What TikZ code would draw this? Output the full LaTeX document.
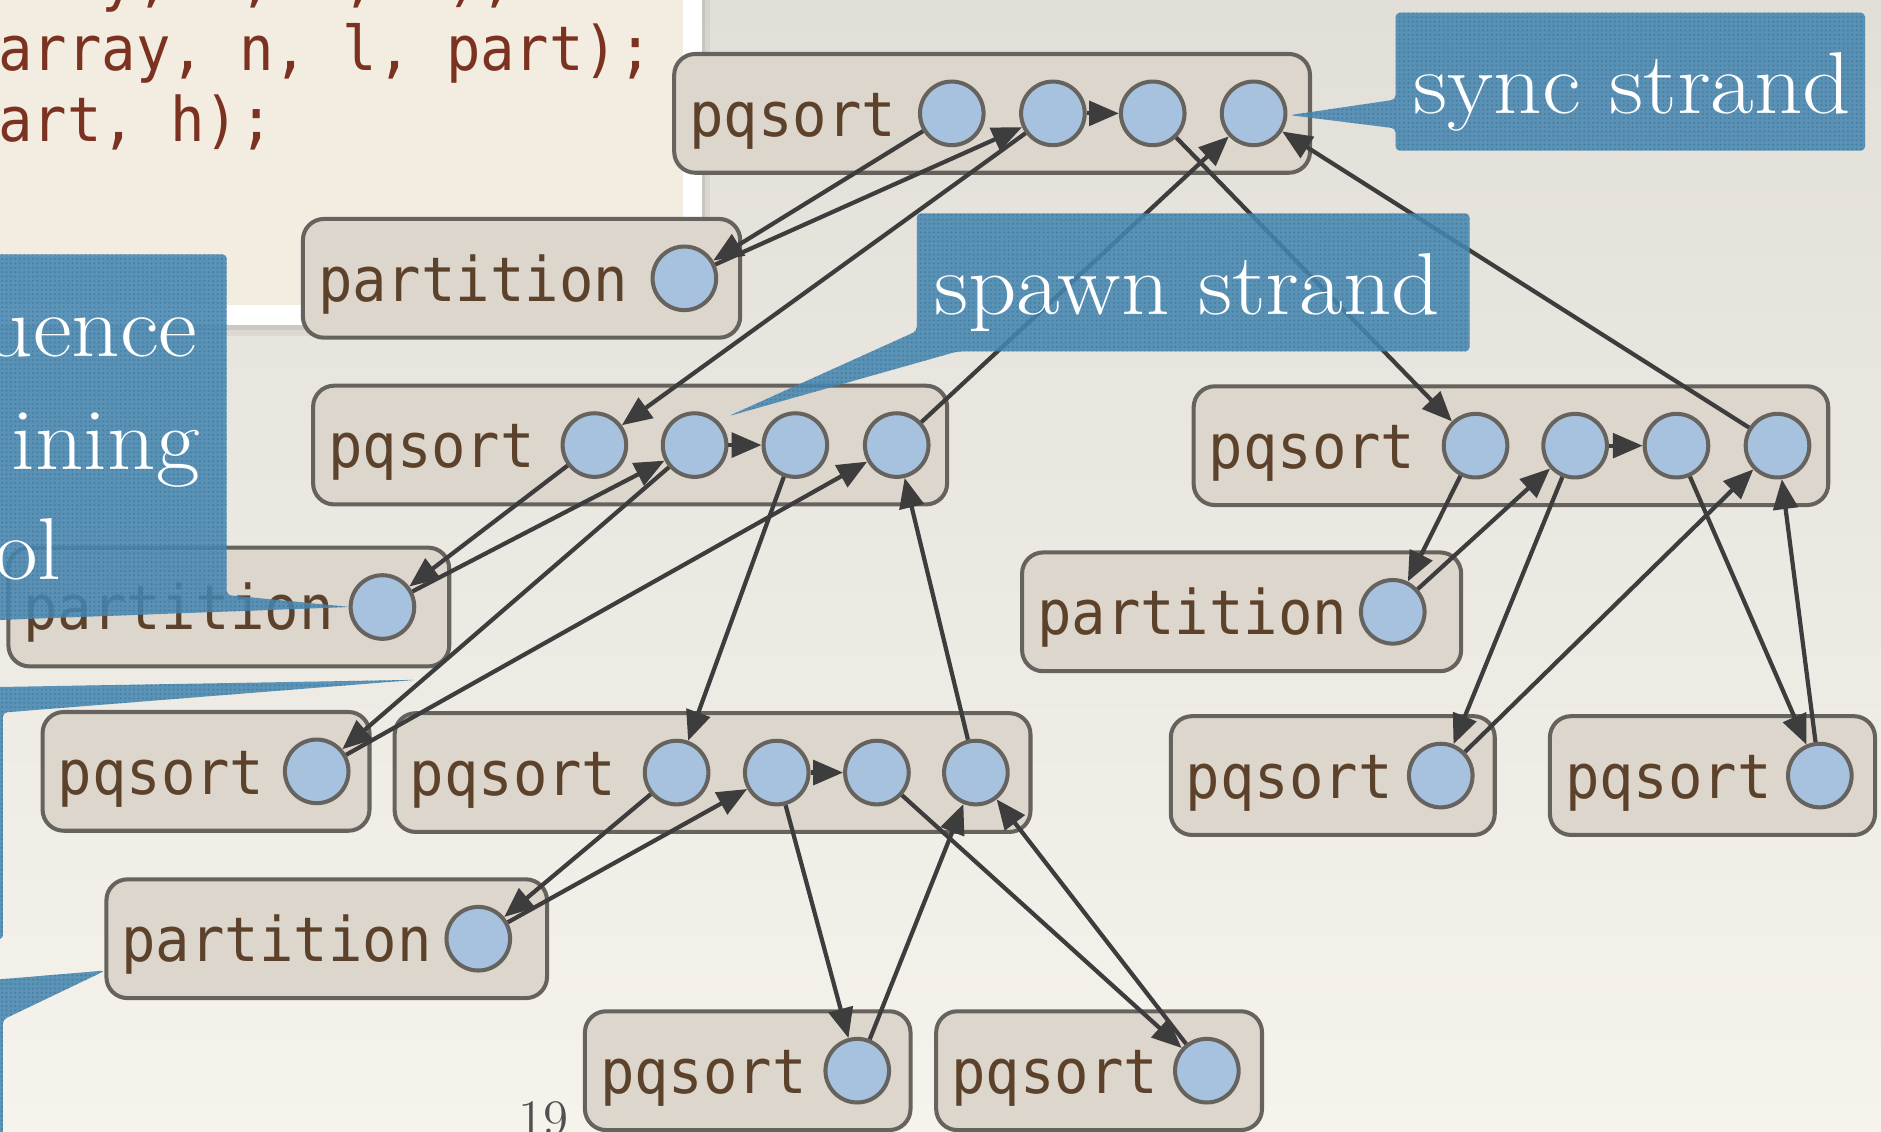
\documentclass[tikz,border=0pt]{standalone}
\usepackage{fontspec}
\newfontfamily\codefont[FakeStretch=0.93]{DejaVu Sans Mono}
\newfontfamily\notefont[FakeStretch=1.08]{Latin Modern Roman}
\usetikzlibrary{arrows.meta,patterns}

\definecolor{bgtop}{HTML}{E2DFD8}
\definecolor{bgbot}{HTML}{F6F3EC}
\definecolor{paper}{HTML}{F3ECE1}
\definecolor{codecol}{HTML}{7C3220}
\definecolor{boxfill}{HTML}{DDD6CC}
\definecolor{boxline}{HTML}{66625D}
\definecolor{dotfill}{HTML}{A6C2DF}
\definecolor{edgecol}{HTML}{3D3D3D}
\definecolor{labelcol}{HTML}{5C412B}
\definecolor{calloutcol}{HTML}{4787B1}
\definecolor{calloutdots}{HTML}{2D6690}
\definecolor{pagenum}{HTML}{505050}

% fine dot texture for the callout boxes
\pgfdeclarepatternformonly{finedots}{\pgfqpoint{-0.1pt}{-0.1pt}}{\pgfqpoint{1.35pt}{1.35pt}}{\pgfqpoint{1.25pt}{1.25pt}}%
  {\pgfpathcircle{\pgfqpoint{0.62pt}{0.62pt}}{0.32pt}\pgfusepath{fill}}

\tikzset{
  strandbox/.style={rectangle, draw=boxline, fill=boxfill, line width=1.15pt,
    rounded corners=6pt, inner sep=0pt, outer sep=0pt},
  strand/.style={circle, draw=boxline, fill=dotfill, line width=1.15pt,
    minimum size=0.636cm, inner sep=0pt},
  fname/.style={anchor=base west, inner sep=0pt, text=labelcol,
    font=\codefont\fontsize{17.5}{20}\selectfont},
  codeline/.style={anchor=base west, inner sep=0pt, text=codecol,
    font=\codefont\fontsize{17.5}{20}\selectfont},
  arr/.style={draw=edgecol, line width=1.2pt, -{Triangle[length=8.5pt,width=7pt]}},
  callout/.style={fill=calloutcol, fill opacity=0.88, rounded corners=1.2pt,
    postaction={pattern=finedots, pattern color=calloutdots, fill opacity=0.45}},
  callouttext/.style={text=white, inner sep=0pt, font=\notefont\fontsize{25}{30}\selectfont},
}

% a function frame: name, left, right, centre y, label
\newcommand\fnbox[5]{%
  \node[strandbox, minimum width={(#3-#2)*0.012cm}, minimum height={99*0.012cm}]
    (#1) at ({(#2+#3)/2},#4) {};
  \node[fname] (#1-name) at ({#2+12},{#4+19}) {#5};
}

\begin{document}
\begin{tikzpicture}[x=0.012cm, y=-0.012cm]
\useasboundingbox (0,0) rectangle (1568,943);
\clip (0,0) rectangle (1568,943);

% slide background
\shade[top color=bgtop, bottom color=bgbot] (0,0) rectangle (1568,943);

% code panel with white frame and soft shadow
\fill[black, opacity=0.05] (-20,-20) rectangle (592,280);
\fill[black, opacity=0.07] (-20,-20) rectangle (588,275);
\fill[white] (-20,-20) rectangle (585,271);
\fill[paper] (-20,-20) rectangle (569,254);
\node[codeline] (code1) at (-59.4,0) {(array, n, l, h);};
\node[codeline] (code2) at (-30.7,59) {(array, n, l, part);};
\node[codeline] (code3) at (-30.7,118) {part, h);};

% function frames
\fnbox{boxA}{562}{1092}{94.5}{pqsort}
\fnbox{boxB}{252.5}{617}{232}{partition}
\fnbox{boxC}{261}{789.5}{371}{pqsort}
\fnbox{boxD}{7}{374.5}{506}{partition}
\fnbox{boxE}{35.5}{308}{643}{pqsort}
\fnbox{boxF}{329}{859}{644}{pqsort}
\fnbox{boxG}{88.7}{456}{782.5}{partition}
\fnbox{boxH}{487.6}{759}{892.5}{pqsort}
\fnbox{boxI}{780.4}{1052}{892.5}{pqsort}
\fnbox{boxJ}{995}{1524}{371.5}{pqsort}
\fnbox{boxK}{852}{1218}{510}{partition}
\fnbox{boxL}{976}{1246}{646.5}{pqsort}
\fnbox{boxM}{1292}{1563}{646.5}{pqsort}

% strands
\node[strand] (A1) at (793.4,94.5) {};
\node[strand] (A2) at (877.7,94.5) {};
\node[strand] (A3) at (960.9,94.5) {};
\node[strand] (A4) at (1045,94.5) {};
\node[strand] (B1) at (570.5,232) {};
\node[strand] (C1) at (495.5,371) {};
\node[strand] (C2) at (579,371) {};
\node[strand] (C3) at (663,371) {};
\node[strand] (C4) at (747.5,371) {};
\node[strand] (D1) at (318.8,506) {};
\node[strand] (E1) at (264,643) {};
\node[strand] (F1) at (564,644) {};
\node[strand] (F2) at (647.5,644) {};
\node[strand] (F3) at (731,644) {};
\node[strand] (F4) at (813.5,644) {};
\node[strand] (G1) at (398.7,782.5) {};
\node[strand] (H1) at (714.6,892.5) {};
\node[strand] (I1) at (1006,892.5) {};
\node[strand] (J1) at (1230,371.5) {};
\node[strand] (J2) at (1313,371.5) {};
\node[strand] (J3) at (1397.5,371.5) {};
\node[strand] (J4) at (1481.7,371.5) {};
\node[strand] (K1) at (1161,510) {};
\node[strand] (L1) at (1201,646.5) {};
\node[strand] (M1) at (1517,646.5) {};

% dependencies
\draw[arr] (A1) -- (B1);
\draw[arr] (B1) -- (A2);
\draw[arr] (A2) -- (A3);
\draw[arr] (A2) -- (C1);
\draw[arr] (A3) -- (J1);
\draw[arr] (C4) -- (A4);
\draw[arr] (J4) -- (A4);

\draw[arr] (C1) -- (D1);
\draw[arr] (D1) -- (C2);
\draw[arr] (C2) -- (C3);
\draw[arr] (C2) -- (E1);
\draw[arr] (E1) -- (C4);
\draw[arr] (C3) -- (F1);
\draw[arr] (F4) -- (C4);

\draw[arr] (F1) -- (G1);
\draw[arr] (G1) -- (F2);
\draw[arr] (F2) -- (F3);
\draw[arr] (F2) -- (H1);
\draw[arr] (H1) -- (F4);
\draw[arr] (F3) -- (I1);
\draw[arr] (I1) -- (F4);

\draw[arr] (J1) -- (K1);
\draw[arr] (K1) -- (J2);
\draw[arr] (J2) -- (J3);
\draw[arr] (J2) -- (L1);
\draw[arr] (L1) -- (J4);
\draw[arr] (J3) -- (M1);
\draw[arr] (M1) -- (J4);

% callouts
\path[callout] (1163.3,10.6) -- (1554.7,10.6) -- (1554.7,125.6) -- (1163.3,125.6)
  -- (1163.3,107) -- (1075,96) -- (1163.3,83) -- cycle;
\node[callouttext, anchor=base west] (synclbl) at (1178,94.4) {sync strand};

\path[callout] (764.2,177.8) -- (1225,177.8) -- (1225,293) -- (798,293)
  -- (607,347) -- (764.2,276) -- cycle;
\node[callouttext, anchor=base west] (spawnlbl) at (778,262.5) {spawn strand};

\path[callout] (-20,212) -- (189,212) -- (189,496) -- (292,506) -- (-20,517.5) -- cycle;
\node[callouttext, anchor=base east] (seq1) at (165,297) {uence};
\node[callouttext, anchor=base east] (seq2) at (167,391.5) {ining};
\node[callouttext, anchor=base east] (seq3) at (52,483) {ol};

\path[callout] (-20,573) -- (347,566.7) -- (2.4,594) -- (2.4,783) -- (-20,783) -- cycle;
\path[callout] (-20,818) -- (88,809) -- (2.4,850) -- (2.4,960) -- (-20,960) -- cycle;

% slide number
\node[anchor=base west, inner sep=0pt, text=pagenum, font=\fontsize{14.5}{16}\selectfont]
  (pageno) at (432,946.5) {19};
\end{tikzpicture}
\end{document}
